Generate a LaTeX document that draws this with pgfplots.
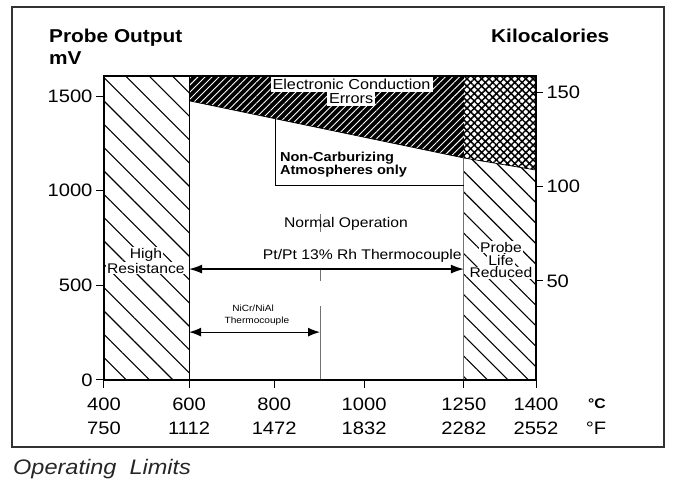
\documentclass[border=0pt]{standalone}
\usepackage{fontspec}
\setmainfont{Liberation Sans}[FakeStretch=1.12]
\usepackage{pgfplots}
\pgfplotsset{compat=1.18}
\usetikzlibrary{patterns.meta,arrows.meta}
\newcommand{\fs}[1]{\fontsize{#1}{#1}\selectfont}
\begin{document}
\begin{tikzpicture}[x=1pt,y=1pt]
\path[use as bounding box] (0,0) rectangle (673,487);
\draw[line width=1.3pt, black!80] (12,40) rectangle (664,480);
\node[anchor=base west, inner sep=0, font=\itshape\fs{21}, black!85] at (13,12) {Operating\ \ Limits};
\node[anchor=base west, inner sep=0, font=\bfseries\fs{18.6}] at (49,444) {Probe Output};
\node[anchor=base west, inner sep=0, font=\bfseries\fs{18.6}] at (49,422) {mV};
\node[anchor=base west, inner sep=0, font=\bfseries\fs{18.6}] at (491,444) {Kilocalories};
\node[anchor=base, inner sep=0, font=\bfseries\fs{14}] at (597,78) {°C};
\node[anchor=base, inner sep=0, font=\fs{18}] at (596,52) {°F};

\begin{axis}[at={(104pt,107pt)}, anchor=south west, scale only axis,
  width=432pt, height=304pt,
  xmin=400, xmax=1400, ymin=0, ymax=1606,
  axis on top,
  axis line style={line width=1.1pt},
  xtick={400,597,794,1002,1233,1400},
  xticklabels={{400\\750},{600\\1112},{800\\1472},{1000\\1832},{1250\\2282},{1400\\2552}},
  xticklabel style={align=center, font=\fontsize{18}{24}\selectfont, yshift=-6pt},
  ytick={0,500,1000,1500}, yticklabels={0,500,1000,1500},
  yticklabel style={font=\fs{18}},
  scaled ticks=false,
  xtick pos=bottom, ytick pos=left,
  tick align=outside, major tick length=8pt,
  tick style={line width=1pt, black},
  clip=false]
% left hatched region
\addplot[draw=none, pattern={Lines[angle=-45,distance=16.5pt,line width=1.1pt]}]
  coordinates {(400,0) (400,1606) (597,1606) (597,0)} -- cycle;
% electronic conduction errors (dark)
\addplot[draw=none, fill=black]
  coordinates {(597,1475) (597,1606) (1233,1606) (1233,1173)} -- cycle;
\addplot[draw=none, pattern={Lines[angle=45,distance=5pt,line width=0.9pt]}, pattern color=white]
  coordinates {(597,1475) (597,1606) (1233,1606) (1233,1173)} -- cycle;
% crosshatch region
\addplot[draw=none, pattern={Hatch[angle=45,distance=5.2pt,line width=1.5pt]}]
  coordinates {(1233,1173) (1233,1606) (1400,1606) (1400,1109)} -- cycle;
% right hatched region
\addplot[draw=none, pattern={Lines[angle=-45,distance=14.5pt,line width=1.1pt]}]
  coordinates {(1233,0) (1233,1173) (1400,1109) (1400,0)} -- cycle;
% boundaries
\addplot[black, line width=0.9pt] coordinates {(597,0) (597,1606)};
\addplot[black!55, line width=0.9pt] coordinates {(1233,0) (1233,1173)};
\addplot[black, line width=0.7pt] coordinates {(597,1475) (1233,1173) (1400,1109)};
\addplot[black, line width=1pt] coordinates {(796,1380) (796,1030) (1233,1030)};
% dashed vertical at 900
\addplot[black!55, line width=0.6pt] coordinates {(900,0) (900,390)};
\addplot[black!55, line width=0.6pt] coordinates {(900,525) (900,586)};
\addplot[black!55, line width=0.6pt] coordinates {(900,780) (900,875)};
% arrows
\addplot[black, line width=1.2pt, {Latex[length=13pt,width=9pt]}-{Latex[length=13pt,width=9pt]}]
  coordinates {(597,586) (1233,586)};
\addplot[black, line width=1.2pt, {Latex[length=12pt,width=9pt]}-{Latex[length=12pt,width=9pt]}]
  coordinates {(597,253) (900,253)};
% labels
\node[anchor=base, fill=white, inner xsep=2pt, inner ysep=3pt, font=\fs{14.5}] at (axis cs:973,1536) {Electronic Conduction};
\node[anchor=base, fill=white, inner xsep=2pt, inner ysep=2pt, font=\fs{14.5}] at (axis cs:972,1461) {Errors};
\node[anchor=base west, inner sep=0, font=\bfseries\fs{13}] at (axis cs:807,1152) {Non-Carburizing};
\node[anchor=base west, inner sep=0, font=\bfseries\fs{13}] at (axis cs:807,1083) {Atmospheres only};
\node[anchor=base, inner sep=0, font=\fs{14}] at (axis cs:960,803) {Normal Operation};
\node[anchor=base, inner sep=0, font=\fs{14}] at (axis cs:998,634) {Pt/Pt 13\% Rh Thermocouple};
\node[anchor=base, fill=white, inner sep=1pt, font=\fs{14}] at (axis cs:497,644) {High};
\node[anchor=base, fill=white, inner sep=1pt, font=\fs{14}] at (axis cs:497,565) {Resistance};
\node[anchor=base, fill=white, inner sep=1pt, font=\fs{14}] at (axis cs:1319,676) {Probe};
\node[anchor=base, fill=white, inner sep=1pt, font=\fs{14}] at (axis cs:1319,607) {Life};
\node[anchor=base, fill=white, inner sep=1pt, font=\fs{14}] at (axis cs:1319,539) {Reduced};
\node[anchor=base, inner sep=0, font=\fs{9}] at (axis cs:745,364) {NiCr/NiAl};
\node[anchor=base, inner sep=0, font=\fs{9}] at (axis cs:754,296) {Thermocouple};
\end{axis}

\begin{axis}[at={(104pt,107pt)}, anchor=south west, scale only axis,
  width=432pt, height=304pt,
  xmin=400, xmax=1400, ymin=-2.4, ymax=158.5,
  axis x line=none, axis y line*=right,
  axis line style={line width=1.1pt},
  ytick={50,100,150}, yticklabels={50,100,150},
  yticklabel style={font=\fs{18}},
  tick align=outside, major tick length=7pt,
  tick style={line width=1pt, black}]
\end{axis}
\end{tikzpicture}
\end{document}
